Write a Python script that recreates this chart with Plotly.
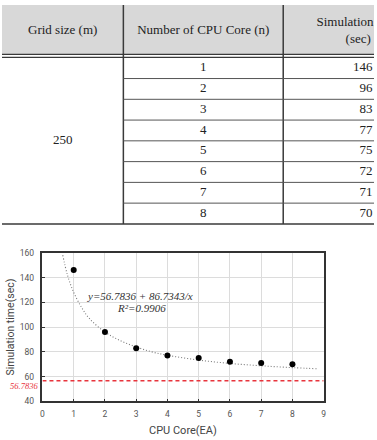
import plotly.graph_objects as go

# ---------------- data ----------------
grid_size = "250"
cpu_cores = [1, 2, 3, 4, 5, 6, 7, 8]
sim_time = [146, 96, 83, 77, 75, 72, 71, 70]
header_labels = ["Grid size (m)", "Number of CPU Core (n)", "Simulation time<br>(sec)"]

fit_a = 56.7836
fit_b = 86.7343
r_squared = 0.9906

# dotted trend curve as it is drawn in the figure
curve_x = [0.65, 0.8, 1.0, 1.25, 1.5, 2.0, 2.5, 3.0, 3.5, 4.0, 5.0, 6.0, 7.0, 8.0, 8.8]
curve_y = [158, 142, 128, 116, 107, 96, 89, 84, 80, 77.3, 73.4, 70.7, 68.8, 67.3, 66.4]

x_ticks = list(range(0, 10))
y_ticks = list(range(40, 161, 20))

# ---------------- layout constants (table, in px units) ----------------
FIG_W, FIG_H = 377, 440
TABLE_H = 226
HEADER_H = 54
ROW_H = 21.25
COL_EDGES = [0, 123, 285]
COL1_C, COL2_C, COL3_HEAD_C, COL3_RIGHT = 61.5, 204, 361, 375.5
LINE_C = "#3a3a3a"
SERIF = "Liberation Serif"
SANS = "Roboto"

row_centers = [HEADER_H + ROW_H * (i + 0.5) for i in range(len(cpu_cores))]
row_lines = [HEADER_H + ROW_H * i for i in range(1, len(cpu_cores))]
table_bottom = HEADER_H + ROW_H * len(cpu_cores)

fig = go.Figure()

# ---------- table (drawn on a hidden px-unit subplot) ----------
tfont = dict(family=SERIF, size=13, color="#222")
fig.add_trace(go.Scatter(x=[COL1_C, COL2_C, COL3_HEAD_C], y=[26.5] * 3, text=header_labels,
                         mode="text", textposition="middle center", textfont=tfont,
                         xaxis="x2", yaxis="y2", hoverinfo="skip", showlegend=False))
fig.add_trace(go.Scatter(x=[COL1_C], y=[HEADER_H + ROW_H * len(cpu_cores) / 2], text=[grid_size],
                         mode="text", textposition="middle center", textfont=tfont,
                         xaxis="x2", yaxis="y2", hoverinfo="skip", showlegend=False))
fig.add_trace(go.Scatter(x=[COL2_C] * len(cpu_cores), y=row_centers, text=[str(c) for c in cpu_cores],
                         mode="text", textposition="middle center", textfont=tfont,
                         xaxis="x2", yaxis="y2", hoverinfo="skip", showlegend=False))
fig.add_trace(go.Scatter(x=[COL3_RIGHT] * len(sim_time), y=row_centers, text=[str(t) for t in sim_time],
                         mode="text", textposition="middle left", textfont=tfont,
                         xaxis="x2", yaxis="y2", hoverinfo="skip", showlegend=False))

shapes = []
shapes.append(dict(type="rect", xref="x2", yref="y2", x0=0, x1=FIG_W, y0=-2, y1=50.5,
                   fillcolor="#d8d8d8", line=dict(width=0), layer="below"))
for yy in (50.5, 53.5):
    shapes.append(dict(type="line", xref="x2", yref="y2", x0=0, x1=FIG_W, y0=yy, y1=yy,
                       line=dict(color=LINE_C, width=1.2)))
for xx in COL_EDGES[1:]:
    shapes.append(dict(type="line", xref="x2", yref="y2", x0=xx, x1=xx, y0=-2, y1=table_bottom,
                       line=dict(color=LINE_C, width=1.5)))
for yy in row_lines:
    shapes.append(dict(type="line", xref="x2", yref="y2", x0=COL_EDGES[1], x1=FIG_W, y0=yy, y1=yy,
                       line=dict(color="#555", width=1)))
shapes.append(dict(type="line", xref="x2", yref="y2", x0=0, x1=FIG_W, y0=table_bottom, y1=table_bottom,
                   line=dict(color=LINE_C, width=1.5)))

# ---------- chart ----------
fig.add_trace(go.Scatter(x=[0, 9], y=[fit_a, fit_a], mode="lines",
                         line=dict(color="#e8343c", width=1.4, dash="4px,3px"),
                         hoverinfo="skip", showlegend=False))
fig.add_trace(go.Scatter(x=curve_x, y=curve_y, mode="lines",
                         line=dict(color="#7a7a7a", width=1.1, dash="1px,2px", shape="spline"),
                         hoverinfo="skip", showlegend=False))
fig.add_trace(go.Scatter(x=cpu_cores, y=sim_time, mode="markers",
                         marker=dict(color="#000", size=6), showlegend=False))

annotations = [
    dict(text=f"<i>y={fit_a} + {fit_b}/x</i>", x=3.13, y=124.9, xref="x", yref="y",
         showarrow=False, font=dict(family=SERIF, size=11, color="#333")),
    dict(text=f"<i>R²={r_squared}</i>", x=3.16, y=115.4, xref="x", yref="y",
         showarrow=False, font=dict(family=SERIF, size=11, color="#333")),
    dict(text=f"<i>{fit_a}</i>", x=0, y=fit_a, xref="x domain", yref="y",
         xanchor="right", yanchor="middle", xshift=-2, yshift=-5, showarrow=False,
         font=dict(family=SERIF, size=8.5, color="#e8343c")),
    dict(text="Simulation time(sec)", x=0, y=0.5, xref="x domain", yref="y domain",
         xanchor="center", yanchor="middle", xshift=-32, textangle=-90, showarrow=False,
         font=dict(family=SANS, size=10.5, color="#444")),
    dict(text="CPU Core(EA)", x=0.5, y=0, xref="x domain", yref="y domain",
         xanchor="center", yanchor="middle", yshift=-29.5, showarrow=False,
         font=dict(family=SANS, size=11, color="#444")),
]

axis_common = dict(showgrid=True, gridcolor="#dcdcdc", gridwidth=1, showline=True, mirror=True,
                   linecolor="#333", linewidth=1.5, ticks="inside", ticklen=3, tickcolor="#333",
                   tickfont=dict(family=SANS, size=8.5, color="#555"), zeroline=False)

fig.update_layout(
    width=FIG_W, height=FIG_H,
    margin=dict(l=0, r=0, t=0, b=0),
    paper_bgcolor="white", plot_bgcolor="white",
    showlegend=False,
    xaxis=dict(domain=[41 / FIG_W, 326 / FIG_W], range=[0, 9], tickvals=x_ticks,
               ticklabelstandoff=4, anchor="y", **axis_common),
    yaxis=dict(domain=[(FIG_H - 405.7) / FIG_H, (FIG_H - 253.5) / FIG_H], range=[40, 160],
               tickvals=y_ticks, ticklabelstandoff=5, anchor="x", **axis_common),
    xaxis2=dict(domain=[0, 1], range=[0, FIG_W], visible=False, anchor="y2", fixedrange=True),
    yaxis2=dict(domain=[1 - TABLE_H / FIG_H, 1], range=[TABLE_H, 0], visible=False, anchor="x2",
                fixedrange=True),
    shapes=shapes,
    annotations=annotations,
)

fig.write_html("out.html")
